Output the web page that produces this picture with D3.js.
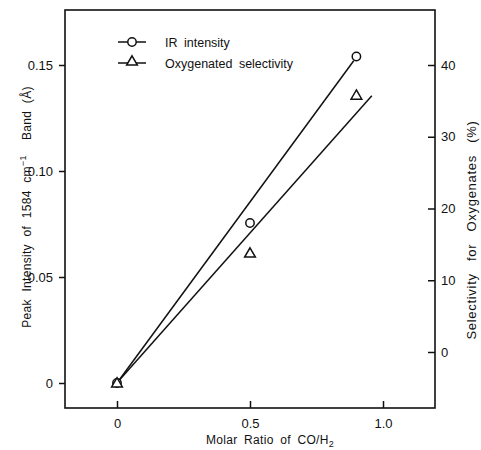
<!DOCTYPE html>
<html lang="en">
<head>
<meta charset="utf-8" />
<title>Peak intensity vs CO/H2</title>
<script src="https://d3js.org/d3.v7.min.js"></script>
<style>
  body { margin: 0; background: #fff; }
  text { font-family: "Liberation Sans", Arial, sans-serif; fill: #111; }
</style>
</head>
<body>
<script>
// data
var ratio = [0, 0.5, 0.9];
var irIntensity = [0, 0.0755, 0.154];
var selectivity = [-4.3, 13.8, 35.8];
// drawn fit lines (end points)
var irFit = [[0, 0], [0.89, 0.152]];
var selFit = [[0, -4.3], [0.958, 35.7]];
var xTicks = [0, 0.5, 1.0];
var xTickLabels = ["0", "0.5", "1.0"];
var yTicks = [0, 0.05, 0.10, 0.15];
var yTickLabels = ["0", "0.05", "0.10", "0.15"];
var rTicks = [0, 10, 20, 30, 40];
var legendNames = ["IR intensity", "Oxygenated selectivity"];

var w = 481, h = 450;
var L = 65, R = 435, T = 10, B = 408;

var svg = d3.select("body").append("svg")
  .attr("width", w).attr("height", h);

var x = d3.scaleLinear().domain([0, 1]).range([117, 383]);
var yL = d3.scaleLinear().domain([0, 0.15]).range([383, 65]);
var yR = d3.scaleLinear().domain([0, 40]).range([352, 65]);

// frame
svg.append("rect")
  .attr("x", L).attr("y", T).attr("width", R - L).attr("height", B - T)
  .attr("fill", "none").attr("stroke", "#111").attr("stroke-width", 1.6);

// left axis (ticks out)
var gl = svg.append("g").attr("transform", "translate(" + L + ",0)")
  .call(d3.axisLeft(yL).tickValues(yTicks).tickSize(6).tickPadding(6)
    .tickFormat(function(d, i){ return yTickLabels[i]; }));

// bottom axis (ticks in)
var gb = svg.append("g").attr("transform", "translate(0," + B + ")")
  .call(d3.axisBottom(x).tickValues(xTicks).tickSizeInner(-7).tickSizeOuter(0).tickPadding(11)
    .tickFormat(function(d, i){ return xTickLabels[i]; }));

// right axis (ticks in)
var gr = svg.append("g").attr("transform", "translate(" + R + ",0)")
  .call(d3.axisRight(yR).tickValues(rTicks).tickSizeInner(-7).tickSizeOuter(0).tickPadding(6));

[gl, gb, gr].forEach(function(g){
  g.select(".domain").remove();
  g.selectAll(".tick line").attr("stroke", "#111").attr("stroke-width", 1.5);
  g.selectAll(".tick text").attr("font-size", 13).style("font-family", "Liberation Sans, Arial, sans-serif");
});

// fit lines
var lineL = d3.line().x(function(d){ return x(d[0]); }).y(function(d){ return yL(d[1]); });
var lineR = d3.line().x(function(d){ return x(d[0]); }).y(function(d){ return yR(d[1]); });
svg.append("path").attr("d", lineL(irFit))
  .attr("fill", "none").attr("stroke", "#111").attr("stroke-width", 1.5);
svg.append("path").attr("d", lineR(selFit))
  .attr("fill", "none").attr("stroke", "#111").attr("stroke-width", 1.5);

// points
var tri = d3.symbol().type(d3.symbolTriangle).size(50);
svg.selectAll("circle.ir")
  .data(ratio).enter().append("circle")
  .attr("class", "ir")
  .attr("cx", function(d){ return x(d); })
  .attr("cy", function(d, i){ return yL(irIntensity[i]); })
  .attr("r", 4.2)
  .attr("fill", "#fff").attr("stroke", "#111").attr("stroke-width", 1.5);
svg.selectAll("path.sel")
  .data(ratio).enter().append("path")
  .attr("class", "sel")
  .attr("d", tri)
  .attr("transform", function(d, i){ return "translate(" + x(d) + "," + (yR(selectivity[i]) + 1) + ")"; })
  .attr("fill", "#fff").attr("stroke", "#111").attr("stroke-width", 1.5);

// legend
var lg = svg.append("g");
legendNames.forEach(function(name, i){
  var ly = 42 + i * 21;
  lg.append("line").attr("x1", 118).attr("x2", 146).attr("y1", ly).attr("y2", ly)
    .attr("stroke", "#111").attr("stroke-width", 1.5);
  if (i === 0) {
    lg.append("circle").attr("cx", 132).attr("cy", ly).attr("r", 4.2)
      .attr("fill", "#fff").attr("stroke", "#111").attr("stroke-width", 1.5);
  } else {
    lg.append("path").attr("d", tri).attr("transform", "translate(132," + (ly - 1) + ")")
      .attr("fill", "#fff").attr("stroke", "#111").attr("stroke-width", 1.5);
  }
  lg.append("text").attr("x", 165).attr("y", ly + 4.5)
    .attr("font-size", 12.5).style("word-spacing", "3px").text(name);
});

// x axis title
var xt = svg.append("text").attr("x", 270).attr("y", 444)
  .attr("text-anchor", "middle").attr("font-size", 12)
  .style("word-spacing", "3px").style("letter-spacing", "0.3px");
xt.append("tspan").text("Molar Ratio of CO/H");
xt.append("tspan").attr("font-size", 9).attr("dy", 3).text("2");

// left y title
var yt = svg.append("text")
  .attr("transform", "translate(31,207) rotate(-90)")
  .attr("text-anchor", "middle").attr("font-size", 12)
  .style("word-spacing", "4px").style("letter-spacing", "0.3px");
yt.append("tspan").text("Peak Intensity of 1584 cm");
yt.append("tspan").attr("font-size", 9).attr("dy", -5).text("\u22121");
yt.append("tspan").attr("dy", 5).text("\u00a0 Band (\u00c5)");

// right y title
svg.append("text")
  .attr("transform", "translate(476,230) rotate(-90)")
  .attr("text-anchor", "middle").attr("font-size", 13)
  .style("word-spacing", "8px").style("letter-spacing", "0.7px")
  .text("Selectivity for Oxygenates (%)");
</script>
</body>
</html>
